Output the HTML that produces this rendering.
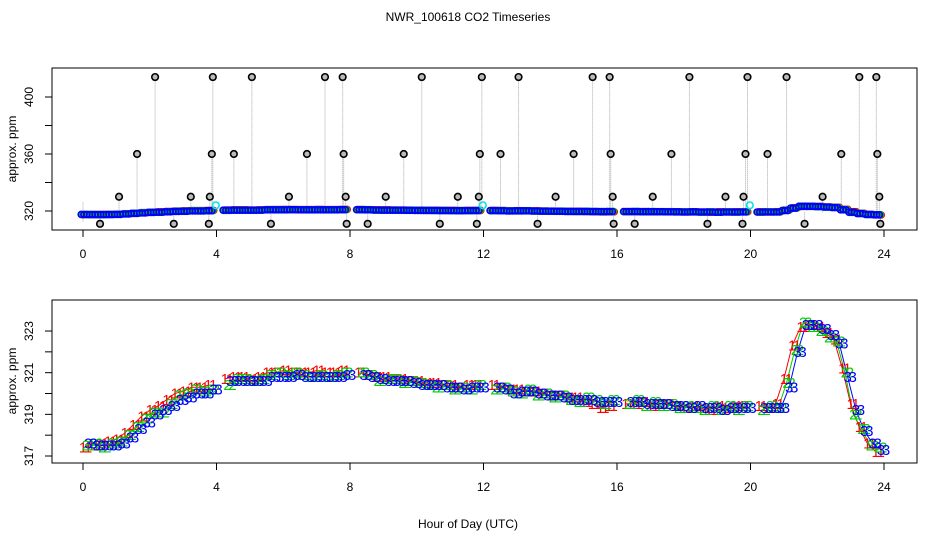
<!DOCTYPE html>
<html><head><meta charset="utf-8"><style>
html,body{margin:0;padding:0;background:#fff;}
svg{display:block;font-family:"Liberation Sans",Arial,sans-serif;}
</style></head><body>
<svg id="c" width="936" height="540" viewBox="0 0 936 540">
<text x="468" y="21" text-anchor="middle" font-size="12">NWR_100618  CO2 Timeseries</text>
<text x="468" y="528" text-anchor="middle" font-size="12">Hour of Day (UTC)</text>
<text transform="translate(16,149) rotate(-90)" text-anchor="middle" font-size="12">approx. ppm</text>
<text transform="translate(16,381) rotate(-90)" text-anchor="middle" font-size="12">approx. ppm</text>
<g id="topg"></g>
<g id="botg"></g>
</svg>
<script>
const hours = [0,0.25,0.5,0.75,1,1.25,1.5,1.75,2,2.25,2.5,2.75,3,3.25,3.5,3.75,4,4.25,4.5,4.75,5,5.25,5.5,5.75,6,6.25,6.5,6.75,7,7.25,7.5,7.75,8,8.25,8.5,8.75,9,9.25,9.5,9.75,10,10.25,10.5,10.75,11,11.25,11.5,11.75,12,12.25,12.5,12.75,13,13.25,13.5,13.75,14,14.25,14.5,14.75,15,15.25,15.5,15.75,16,16.25,16.5,16.75,17,17.25,17.5,17.75,18,18.25,18.5,18.75,19,19.25,19.5,19.75,20,20.25,20.5,20.75,21,21.25,21.5,21.75,22,22.25,22.5,22.75,23,23.25,23.5,23.75];
const series3 = [317.6,317.5,317.5,317.5,317.6,317.9,318.3,318.6,319.0,319.2,319.4,319.7,319.8,320.0,320.0,320.2,null,320.6,320.6,320.6,320.6,320.6,320.8,320.8,320.8,320.9,320.8,320.8,320.8,320.8,320.8,320.9,null,320.9,320.8,320.7,320.6,320.6,320.6,320.5,320.4,320.4,320.4,320.3,320.3,320.2,320.3,320.3,null,320.3,320.2,320.0,320.1,320.1,320.0,319.9,319.9,319.8,319.7,319.7,319.7,319.6,319.6,319.6,null,319.6,319.6,319.5,319.5,319.5,319.4,319.4,319.3,319.4,319.3,319.3,319.2,319.3,319.3,319.3,null,319.3,319.3,319.3,320.3,322.0,323.3,323.3,323.1,322.8,322.4,320.8,319.2,318.2,317.6,317.3];
const series2 = [317.5,317.6,317.4,317.6,317.7,318.0,318.4,318.8,319.1,319.1,319.5,319.9,320.0,320.2,320.1,320.2,null,320.4,320.7,320.7,320.6,320.7,320.9,321.0,320.9,321.0,320.9,320.8,320.9,320.8,320.9,321.0,null,321.0,320.9,320.6,320.7,320.7,320.5,320.6,320.5,320.4,320.3,320.4,320.2,320.3,320.2,320.4,null,320.2,320.3,320.1,320.0,320.2,319.9,320.0,319.8,319.9,319.7,319.6,319.8,319.7,319.5,319.7,null,319.5,319.7,319.4,319.6,319.4,319.5,319.3,319.4,319.3,319.2,319.4,319.2,319.4,319.2,319.4,null,319.2,319.4,319.3,320.5,322.1,323.4,323.2,323.0,322.7,322.5,321.0,319.0,318.3,317.5,317.4];
const series1 = [317.4,317.5,317.6,317.7,317.8,318.1,318.5,318.9,319.2,319.4,319.7,320.0,320.1,320.3,320.3,320.4,null,320.7,320.8,320.8,320.7,320.8,321.0,321.0,321.1,321.0,321.0,321.0,321.1,321.0,321.0,321.1,null,321.0,320.9,320.8,320.8,320.7,320.7,320.6,320.6,320.5,320.5,320.4,320.4,320.3,320.4,320.4,null,320.4,320.3,320.2,320.2,320.1,320.1,320.0,319.9,319.9,319.8,319.8,319.6,319.5,319.3,319.4,null,319.5,319.5,319.6,319.4,319.5,319.5,319.4,319.3,319.4,319.3,319.2,319.4,319.3,319.4,319.4,null,319.4,319.3,319.5,320.7,322.3,323.2,323.3,323.2,322.9,322.6,321.2,319.5,318.4,317.6,317.2];
const outlierHours = [0.51,1.08,1.62,2.16,2.72,3.23,3.77,3.80,3.86,3.89,4.52,5.06,5.63,6.17,6.71,7.25,7.78,7.81,7.87,7.90,8.53,9.07,9.61,10.15,10.69,11.23,11.80,11.86,11.89,11.95,12.51,13.05,13.62,14.16,14.70,15.27,15.78,15.81,15.87,15.90,16.53,17.07,17.63,18.17,18.71,19.25,19.76,19.79,19.85,19.91,20.51,21.08,21.62,22.16,22.72,23.26,23.77,23.80,23.86,23.89];
const outlierValues = [311,330,360,414,311,330,311,330,360,414,360,414,311,330,360,414,414,360,330,311,311,330,360,414,311,330,311,330,360,414,360,414,311,330,360,414,414,360,330,311,311,330,360,414,311,330,311,330,360,414,360,414,311,330,360,414,414,360,330,311];
const calHours = [3.98,11.98,19.98];
const calValues = [324,324,324];
const xTicks = [0,4,8,12,16,20,24];
const topYTicks = [320,340,360,380,400];
const topYLabels = ["320","","360","","400"];
const botYTicks = [317,318,319,320,321,322,323];
const botYLabels = ["317","","319","","321","","323"];

const NS="http://www.w3.org/2000/svg";
function mk(tag,attrs,parent){const e=document.createElementNS(NS,tag);for(const k in attrs)e.setAttribute(k,attrs[k]);parent.appendChild(e);return e;}
const xs=h=>83+h*33.375;
const yTop=v=>211-(v-320)*1.425;
const yBot=v=>456-(v-317)*20.83;
const cols=["#ff0000","#00cd00","#0000ff"];
const seriesList=[series1,series2,series3];
const topG=document.getElementById('topg'), botG=document.getElementById('botg');

function axes(g,y0,y1,ysc,ticks,labels,pfx){
  const box=mk('rect',{x:52,y:y0,width:865,height:y1-y0,fill:'none',stroke:'#000','stroke-width':1},g);
  
  
  xTicks.forEach(t=>{
    const l=mk('line',{x1:xs(t),x2:xs(t),y1:y1,y2:y1+7,stroke:'#000'},g);
    
    
    const tx=mk('text',{x:xs(t),y:y1+28,'text-anchor':'middle','font-size':12},g);
    tx.textContent=t;
    
    
  });
  ticks.forEach((t,i)=>{
    const y=ysc(t);
    const l=mk('line',{x1:45,x2:52,y1:y,y2:y,stroke:'#000'},g);
    
    
    if(labels[i]){
      const tx=mk('text',{transform:`translate(33,${y}) rotate(-90)`,'text-anchor':'middle','font-size':12},g);
      tx.textContent=labels[i];
      
      
    }
  });
}
axes(topG,68,230,yTop,topYTicks,topYLabels,'top');
axes(botG,300,463,yBot,botYTicks,botYLabels,'bottom');

const s0=mk('line',{x1:xs(0),x2:xs(0),y1:yTop(326),y2:yTop(312),stroke:'#aaa','stroke-dasharray':'1,1'},topG);


outlierHours.forEach((h,i)=>{
  const l=mk('line',{x1:xs(h),x2:xs(h),y1:yTop(319),y2:yTop(outlierValues[i]),stroke:'#aaa','stroke-dasharray':'1,1'},topG);
  
  
});
seriesList.forEach((s,k)=>{
  hours.forEach((h,i)=>{
    if(s[i]==null)return;
    for(let d=0;d<3;d++){
      const c=mk('circle',{cx:xs(h)+d*2.8-k*0.9,cy:yTop(s[i]),r:3,fill:'none',stroke:cols[k],'stroke-width':1.6},topG);
      
      
    }
  });
});
outlierHours.forEach((h,i)=>{
  const c=mk('circle',{cx:xs(h),cy:yTop(outlierValues[i]),r:3.3,fill:'#bbb',stroke:'#000','stroke-width':1.6},topG);
  
  
});
calHours.forEach((h,i)=>{
  const c=mk('circle',{cx:xs(h),cy:yTop(calValues[i]),r:3.3,fill:'none',stroke:'#00e5ee','stroke-width':1.6},topG);
  
  
});

seriesList.forEach((s,k)=>{
  const off=k*0.08;
  let d='';let pen=false;
  hours.forEach((h,i)=>{
    if(s[i]==null){pen=false;return;}
    d+=(pen?'L':'M')+xs(h+off).toFixed(1)+','+yBot(s[i]).toFixed(1);pen=true;
  });
  const p=mk('path',{d:d,fill:'none',stroke:cols[k],'stroke-width':1},botG);
  
  
});
seriesList.forEach((s,k)=>{
  const off=k*0.08;
  hours.forEach((h,i)=>{
    if(s[i]==null)return;
    for(let d=0;d<2;d++){
      const t=mk('text',{x:xs(h+off)+d*5,y:yBot(s[i])+5,'text-anchor':'middle','font-size':15,fill:cols[k]},botG);
      t.textContent=String(k+1);
      
      
    }
  });
});
</script>
</body></html>
